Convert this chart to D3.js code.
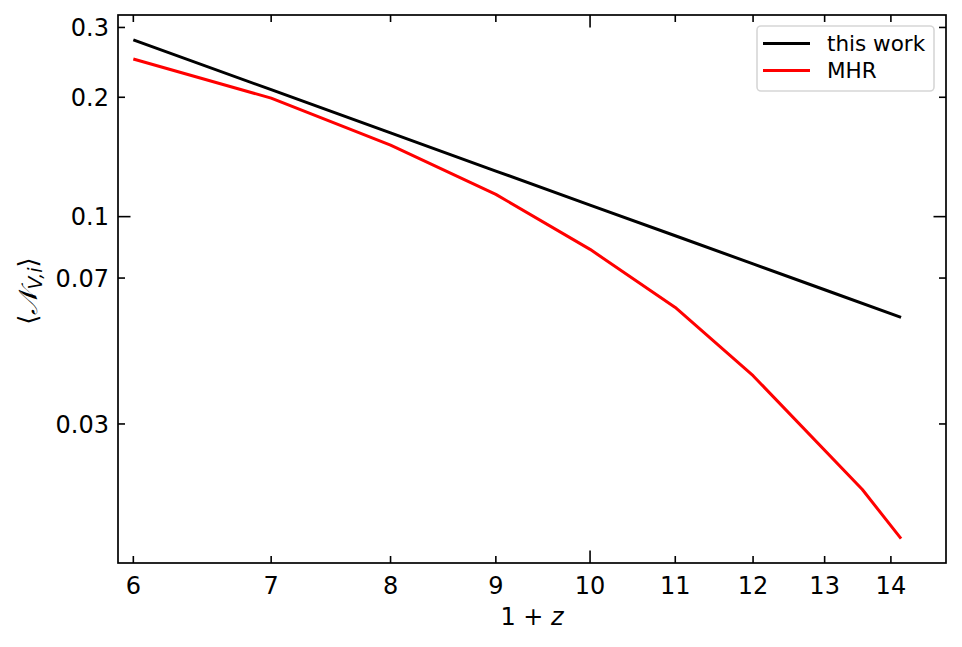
<!DOCTYPE html>
<html><head><meta charset="utf-8">
<script src="https://cdn.jsdelivr.net/npm/d3@7"></script>
<style>
html,body{margin:0;padding:0;background:#fff;}
svg{display:block;font-family:"DejaVu Sans",sans-serif;}
</style></head>
<body>
<svg id="c" width="962" height="647"></svg>
<script>
// ---- data ----
const xThisWork = [6, 7, 8, 9, 10, 11, 12, 13, 14.16];
const yThisWork = [0.279, 0.209, 0.1626, 0.1303, 0.1069, 0.0895, 0.076, 0.0654, 0.0557];
const xMHR = [6, 7, 8, 9, 10, 11, 12, 13.56, 14.16];
const yMHR = [0.2497, 0.199, 0.1514, 0.1138, 0.0827, 0.059, 0.0397, 0.0205, 0.01541];
const xTicks = [6, 7, 8, 9, 10, 11, 12, 13, 14];
const xMajor = [10];
const yTicks = [0.03, 0.07, 0.1, 0.2, 0.3];
const yTickLabels = ["0.03", "0.07", "0.1", "0.2", "0.3"];
const yMajor = [0.1];
const seriesNames = ["this work", "MHR"];
const seriesColors = ["#000000", "#ff0000"];

const L = 118, R = 946, T = 15, B = 563;
const svg = d3.select("#c");
const x = d3.scaleLog().domain([5.898, 14.89]).range([L, R]);
const y = d3.scaleLog().domain([0.01338, 0.3225]).range([B, T]);

const MAJ = 12.5, MIN = 7;
const tickG = svg.append("g").attr("stroke", "#000").attr("stroke-width", 1.6);
xTicks.forEach(v => {
  const len = xMajor.includes(v) ? MAJ : MIN;
  tickG.append("line").attr("x1", x(v)).attr("x2", x(v)).attr("y1", B).attr("y2", B - len);
  tickG.append("line").attr("x1", x(v)).attr("x2", x(v)).attr("y1", T).attr("y2", T + len);
});
yTicks.forEach(v => {
  const len = yMajor.includes(v) ? MAJ : MIN;
  tickG.append("line").attr("y1", y(v)).attr("y2", y(v)).attr("x1", L).attr("x2", L + len);
  tickG.append("line").attr("y1", y(v)).attr("y2", y(v)).attr("x1", R).attr("x2", R - len);
});

// tick labels
svg.append("g").selectAll("text").data(xTicks).join("text")
  .attr("x", d => x(d)).attr("y", B + 31).attr("text-anchor", "middle")
  .attr("font-size", 24).attr("fill", "#000").text(d => d);
svg.append("g").selectAll("text").data(yTicks).join("text")
  .attr("x", L - 9).attr("y", d => y(d)).attr("dy", "0.36em").attr("text-anchor", "end")
  .attr("font-size", 24).attr("fill", "#000").text((d, i) => yTickLabels[i]);

// lines
const line = d3.line().x(d => x(d[0])).y(d => y(d[1]));
const series = [d3.zip(xThisWork, yThisWork), d3.zip(xMHR, yMHR)];
series.forEach((s, i) => {
  svg.append("path").datum(s).attr("d", line).attr("fill", "none")
    .attr("stroke", seriesColors[i]).attr("stroke-width", 3).attr("stroke-linejoin", "round");
});

// frame
svg.append("rect").attr("x", L).attr("y", T).attr("width", R - L).attr("height", B - T)
  .attr("fill", "none").attr("stroke", "#000").attr("stroke-width", 1.7);

// legend
const lg = svg.append("g");
lg.append("rect").attr("x", 757).attr("y", 26).attr("width", 177).attr("height", 65)
  .attr("rx", 4).attr("fill", "#fff").attr("fill-opacity", 0.8)
  .attr("stroke", "#d6d6d6").attr("stroke-width", 1.6);
seriesNames.forEach((n, i) => {
  const yy = 43.5 + i * 27;
  lg.append("line").attr("x1", 763).attr("x2", 810).attr("y1", yy).attr("y2", yy)
    .attr("stroke", seriesColors[i]).attr("stroke-width", 3);
  lg.append("text").attr("x", 827).attr("y", yy).attr("dy", "0.35em")
    .attr("font-size", 21.5).attr("fill", "#000").text(n);
});

// axis labels
const xl = svg.append("text").attr("x", (L + R) / 2).attr("y", 625).attr("text-anchor", "middle")
  .attr("font-size", 24).attr("fill", "#000");
xl.append("tspan").text("1 + ");
xl.append("tspan").attr("font-style", "italic").text("z");

const yl = svg.append("text").attr("transform", `translate(37,${(T + B) / 2 + 2}) rotate(-90)`)
  .attr("text-anchor", "middle").attr("font-size", 26).attr("fill", "#000");
yl.append("tspan").text("⟨");
yl.append("tspan").attr("font-style", "italic").text("𝒩");
yl.append("tspan").attr("font-style", "italic").attr("font-size", 19).attr("dy", 5).text("V,i");
yl.append("tspan").attr("dy", -5).text("⟩");
</script>
</body></html>
